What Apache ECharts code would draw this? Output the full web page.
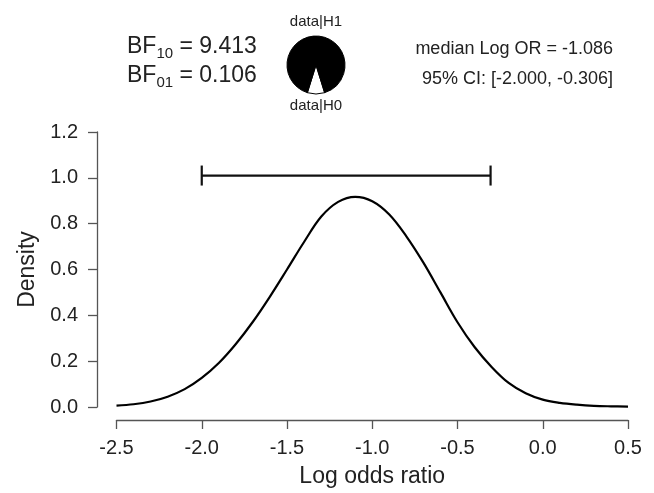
<!DOCTYPE html>
<html>
<head>
<meta charset="utf-8">
<script src="https://cdn.jsdelivr.net/npm/echarts@6/dist/echarts.min.js"></script>
<style>
html,body{margin:0;padding:0;background:#fff;}
#chart{width:654px;height:493px;}
</style>
</head>
<body>
<div id="chart"></div>
<script>
// Posterior density
const logOR = [-2.5,-2.4,-2.3,-2.2,-2.1,-2.0,-1.9,-1.8,-1.7,-1.6,-1.5,-1.4,-1.3,-1.2,-1.1,-1.0,-0.9,-0.8,-0.7,-0.6,-0.5,-0.4,-0.3,-0.2,-0.1,0.0,0.1,0.2,0.3,0.4,0.5];
const density = [0.006,0.012,0.024,0.045,0.078,0.127,0.192,0.275,0.372,0.482,0.600,0.720,0.830,0.895,0.917,0.898,0.840,0.745,0.630,0.500,0.370,0.262,0.175,0.105,0.060,0.032,0.018,0.010,0.005,0.003,0.002];
// 95% credible interval bar
const ciLower = -2.000;
const ciUpper = -0.306;
const ciHeight = 1.01;
// Bayes factors and summary
const bf10 = 9.413;
const bf01 = 0.106;
const medianLogOR = -1.086;
const pieNames = ['data|H0','data|H1'];
const pieValues = [1, bf10];
// Axis ticks
const xTicks = [-2.5,-2.0,-1.5,-1.0,-0.5,0.0,0.5];
const yTicks = [0.0,0.2,0.4,0.6,0.8,1.0,1.2];

const FONT = '"Liberation Sans", Arial, sans-serif';
const chart = echarts.init(document.getElementById('chart'), null, {renderer:'canvas'});

const h0Share = pieValues[0] / (pieValues[0] + pieValues[1]);
const startAngle = 270 + h0Share * 360 / 2;

chart.setOption({
  animation: false,
  backgroundColor: '#ffffff',
  grid: {left: 116.5, right: 26, top: 132, bottom: 84, containLabel: false},
  xAxis: {
    type: 'value', min: xTicks[0], max: xTicks[xTicks.length-1], interval: 0.5,
    offset: 13,
    axisLine: {show: true, onZero: false, lineStyle: {color: '#555', width: 1.3}},
    axisTick: {show: true, length: 9, lineStyle: {color: '#555', width: 1.3}},
    axisLabel: {margin: 18, fontSize: 20, color: '#222', fontFamily: FONT,
      formatter: v => v.toFixed(1), showMinLabel: true, showMaxLabel: true},
    splitLine: {show: false},
    name: 'Log odds ratio', nameLocation: 'middle', nameGap: 45,
    nameTextStyle: {fontSize: 23, color: '#222', fontFamily: FONT}
  },
  yAxis: {
    type: 'value', min: yTicks[0], max: yTicks[yTicks.length-1], interval: 0.2,
    offset: 19.5,
    axisLine: {show: true, onZero: false, lineStyle: {color: '#555', width: 1.3}},
    axisTick: {show: true, length: 9, lineStyle: {color: '#555', width: 1.3}},
    axisLabel: {margin: 19, fontSize: 20, color: '#222', fontFamily: FONT,
      formatter: v => v.toFixed(1)},
    splitLine: {show: false},
    name: 'Density', nameLocation: 'middle', nameGap: 58, nameRotate: 90,
    nameTextStyle: {fontSize: 23, color: '#222', fontFamily: FONT}
  },
  series: [
    {
      type: 'line',
      data: logOR.map((x, i) => [x, density[i]]),
      smooth: 0.35,
      symbol: 'none',
      lineStyle: {color: '#000', width: 2.2},
      z: 3
    },
    {
      type: 'custom',
      data: [[ciLower, ciUpper, ciHeight]],
      renderItem: function (params, api) {
        const p1 = api.coord([api.value(0), api.value(2)]);
        const p2 = api.coord([api.value(1), api.value(2)]);
        const cap = 10;
        const st = {stroke: '#111', lineWidth: 2.2};
        return {type: 'group', children: [
          {type: 'line', shape: {x1: p1[0], y1: p1[1], x2: p2[0], y2: p2[1]}, style: st},
          {type: 'line', shape: {x1: p1[0], y1: p1[1]-cap, x2: p1[0], y2: p1[1]+cap}, style: st},
          {type: 'line', shape: {x1: p2[0], y1: p2[1]-cap, x2: p2[0], y2: p2[1]+cap}, style: st}
        ]};
      },
      z: 4
    },
    {
      type: 'pie',
      center: [316, 65],
      radius: 29,
      startAngle: startAngle,
      clockwise: true,
      silent: true,
      label: {show: false},
      labelLine: {show: false},
      data: pieNames.map((n, i) => ({name: n, value: pieValues[i],
        itemStyle: {color: i === 0 ? '#ffffff' : '#000000', borderColor: '#000', borderWidth: 1}}))
    }
  ],
  graphic: [
    {type: 'text', left: 127, top: 35, style: {
      text: '{a|BF}{s|10}{a| = ' + bf10.toFixed(3) + '}',
      rich: {
        a: {fontSize: 23, fontFamily: FONT, fill: '#222', padding: [0,0,3,0], verticalAlign: 'bottom'},
        s: {fontSize: 15, fontFamily: FONT, fill: '#222', verticalAlign: 'bottom'}
      }}},
    {type: 'text', left: 127, top: 64, style: {
      text: '{a|BF}{s|01}{a| = ' + bf01.toFixed(3) + '}',
      rich: {
        a: {fontSize: 23, fontFamily: FONT, fill: '#222', padding: [0,0,3,0], verticalAlign: 'bottom'},
        s: {fontSize: 15, fontFamily: FONT, fill: '#222', verticalAlign: 'bottom'}
      }}},
    {type: 'text', x: 316, y: 22, style: {text: pieNames[1], fontSize: 15, fontFamily: FONT, fill: '#222', align: 'center', verticalAlign: 'middle'}},
    {type: 'text', x: 316, y: 106, style: {text: pieNames[0], fontSize: 15, fontFamily: FONT, fill: '#222', align: 'center', verticalAlign: 'middle'}},
    {type: 'text', x: 613, y: 49, style: {text: 'median Log OR = ' + medianLogOR.toFixed(3), fontSize: 18, fontFamily: FONT, fill: '#222', align: 'right', verticalAlign: 'middle'}},
    {type: 'text', x: 613, y: 79, style: {text: '95% CI: [' + ciLower.toFixed(3) + ', ' + ciUpper.toFixed(3) + ']', fontSize: 18, fontFamily: FONT, fill: '#222', align: 'right', verticalAlign: 'middle'}}
  ]
});
</script>
</body>
</html>
